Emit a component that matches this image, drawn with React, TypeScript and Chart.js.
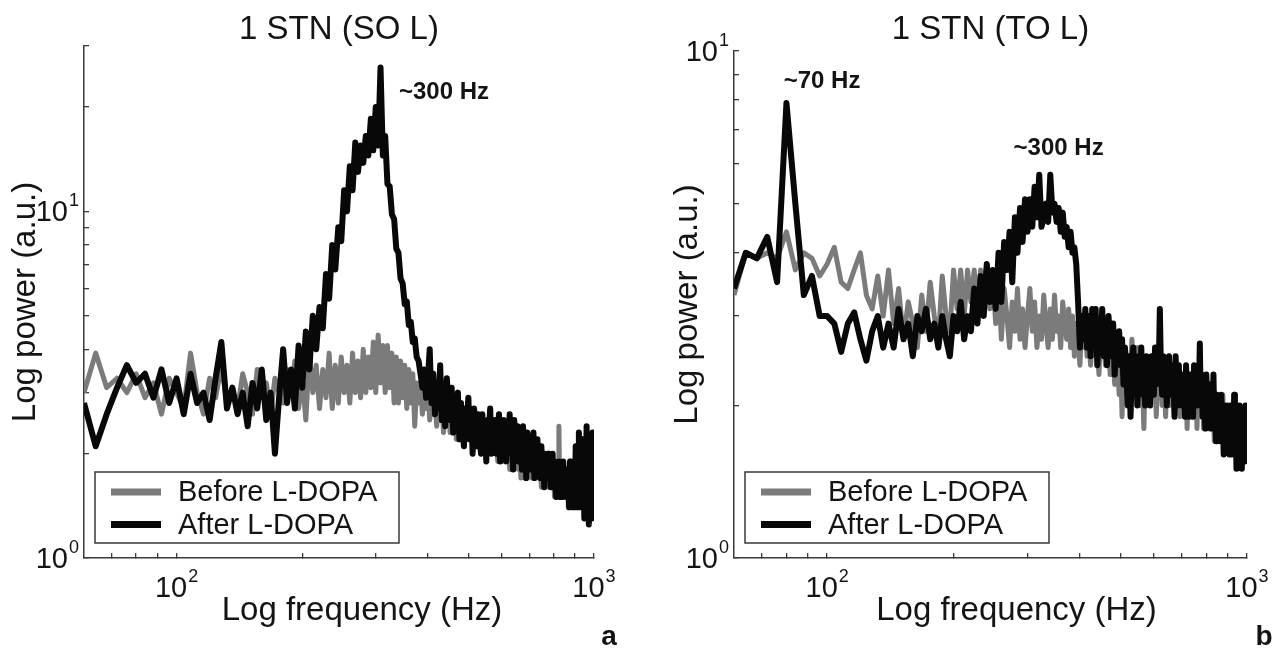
import React, { useEffect, useRef } from 'react';
import { Chart, registerables } from 'chart.js';

Chart.register(...registerables);

const FONT = "'Liberation Sans', Arial, Helvetica, sans-serif";
Chart.defaults.font.family = FONT;

// ---------------- data ----------------
// spectra are sampled on a 4 Hz frequency grid, 60 .. 1000 Hz
const FREQ_START_HZ = 60;
const FREQ_STEP_HZ = 4;

// Panel a: 1 STN (SO L)
const SO_BEFORE = [
  3.0, 3.9, 3.1, 3.3, 3.0, 3.4, 2.9, 3.2, 2.6, 3.3,
  3.0, 2.7, 3.9, 3.0, 2.6, 3.3, 2.9, 3.6, 2.8, 3.1,
  2.7, 3.4, 3.0, 2.6, 3.5, 2.9, 3.2, 2.6, 3.3, 3.0,
  2.8, 3.5, 3.0, 3.7, 2.7, 3.3, 2.5, 3.9, 3.0, 3.6,
  2.7, 3.5, 2.9, 3.9, 2.7, 3.6, 2.8, 3.8, 3.0, 3.6,
  2.8, 3.9, 3.0, 3.7, 2.9, 4.0, 3.0, 3.8, 3.1, 4.2,
  3.0, 4.4, 3.2, 4.1, 3.0, 4.1, 3.1, 3.9, 2.8, 3.8,
  2.8, 3.7, 2.9, 3.6, 2.7, 3.5, 2.8, 3.4, 2.4, 3.2,
  2.8, 3.2, 2.6, 3.0, 2.7, 3.1, 2.5, 2.9, 2.6, 2.8,
  2.4, 2.9, 2.5, 2.8, 2.3, 2.7, 2.5, 2.9, 2.3, 2.6,
  2.4, 2.7, 2.2, 2.6, 2.3, 2.8, 2.2, 2.5, 2.4, 2.6,
  2.2, 2.5, 2.3, 2.6, 2.1, 2.4, 2.2, 2.6, 2.1, 2.4,
  2.2, 2.5, 2.0, 2.4, 2.2, 2.3, 2.0, 2.4, 2.1, 2.3,
  2.0, 2.3, 1.9, 2.2, 2.0, 2.4, 1.9, 2.2, 2.0, 2.1,
  1.9, 2.2, 1.8, 2.1, 2.0, 2.3, 1.8, 2.1, 1.9, 2.2,
  1.8, 2.1, 1.7, 2.0, 1.9, 2.2, 1.7, 2.0, 1.8, 2.1,
  1.8, 2.0, 1.7, 2.1, 1.8, 1.9, 1.7, 2.0, 1.8, 1.9,
  1.7, 1.9, 1.6, 1.9, 1.8, 2.0, 1.6, 1.9, 1.7, 1.8,
  1.6, 1.9, 1.7, 1.8, 1.6, 1.9, 1.5, 1.8, 1.7, 1.8,
  1.6, 2.4, 1.5, 1.7, 1.6, 1.8, 1.5, 1.7, 1.6, 1.7,
  1.5, 1.7, 1.4, 1.7, 1.5, 1.8, 1.5, 1.6, 1.4, 1.7,
  1.5, 1.6, 1.4, 1.7, 1.5, 1.6, 1.4, 1.6, 1.5, 1.7,
  1.4, 1.6, 1.5, 1.7, 1.4, 1.5, 1.3, 1.6, 1.4, 1.6,
  1.4, 1.7, 1.4, 1.6, 1.3, 1.5,
];

const SO_AFTER = [
  2.8, 2.1, 2.6, 3.1, 3.6, 3.2, 3.4, 2.9, 3.5, 2.8,
  3.3, 2.6, 3.4, 2.8, 3.0, 2.5, 3.3, 4.2, 2.7, 3.1,
  2.6, 3.0, 2.4, 3.2, 2.7, 3.5, 2.5, 3.0, 2.0, 2.9,
  4.0, 2.8, 3.5, 2.7, 4.1, 3.1, 4.5, 3.5, 5.0, 4.0,
  5.3, 4.6, 6.6, 5.6, 8.0, 6.8, 9.0, 8.2, 11.5, 10.0,
  13.5, 11.5, 15.8, 13.0, 15.5, 13.8, 16.5, 14.5, 18.5, 15.0,
  20.0, 15.5, 26.0, 14.5, 16.5, 12.0, 11.8, 9.8, 9.5, 7.8,
  7.6, 6.4, 6.2, 5.4, 5.5, 4.7, 4.8, 4.2, 4.3, 3.8,
  3.7, 3.4, 3.1, 3.5, 2.9, 3.3, 4.0, 2.8, 3.4, 2.6,
  3.2, 2.7, 3.6, 2.5, 3.0, 2.4, 3.3, 2.8, 2.5, 3.1,
  2.3, 2.9, 2.6, 3.0, 2.2, 2.8, 2.4, 2.1, 2.7, 2.5,
  2.9, 2.2, 2.6, 2.0, 2.7, 2.4, 2.1, 2.6, 2.3, 2.0,
  2.6, 2.2, 2.4, 1.9, 2.5, 2.3, 2.7, 2.0, 2.4, 2.2,
  2.5, 2.0, 2.3, 2.6, 1.9, 2.4, 2.1, 2.5, 2.2, 1.9,
  2.4, 2.1, 2.6, 2.0, 2.3, 1.8, 2.5, 2.2, 2.0, 2.4,
  1.9, 2.3, 2.1, 1.8, 2.4, 2.0, 2.2, 1.7, 2.3, 2.0,
  2.2, 1.8, 2.1, 1.9, 2.3, 1.7, 2.0, 1.9, 2.2, 1.8,
  2.0, 1.7, 2.1, 1.8, 1.9, 1.6, 2.0, 1.8, 1.7, 2.0,
  1.7, 1.9, 1.6, 1.8, 2.0, 1.6, 1.9, 1.7, 1.5, 1.8,
  1.6, 1.9, 1.5, 1.8, 1.7, 1.5, 1.9, 1.6, 1.7, 1.5,
  1.8, 1.5, 1.7, 1.4, 1.9, 1.6, 1.5, 1.7, 1.4, 1.8,
  1.5, 2.1, 1.4, 1.9, 1.6, 2.3, 1.4, 1.8, 1.5, 2.2,
  1.4, 1.9, 1.3, 2.0, 1.6, 2.4, 1.3, 1.8, 1.25, 2.2,
  1.4, 2.0, 1.3, 2.3, 1.5, 1.9,
];

// Panel b: 1 STN (TO L)
const TO_BEFORE = [
  3.3, 4.0, 3.9, 4.0, 3.9, 4.4, 3.7, 4.0, 3.9, 3.6,
  3.8, 4.1, 3.5, 3.4, 3.7, 4.0, 3.3, 3.1, 3.6, 3.0,
  3.7, 2.9, 3.4, 2.7, 3.2, 2.9, 2.6, 3.3, 2.8, 3.5,
  3.0, 2.7, 3.6, 3.0, 2.8, 3.7, 3.1, 3.7, 3.0, 3.7,
  3.2, 3.7, 3.0, 3.7, 3.4, 3.8, 3.1, 3.6, 2.9, 3.5,
  2.7, 3.4, 3.0, 2.6, 3.2, 2.8, 3.4, 2.7, 3.1, 2.6,
  3.0, 3.4, 2.8, 3.2, 2.6, 3.0, 2.7, 3.3, 2.9, 2.6,
  3.1, 2.7, 3.3, 2.8, 3.0, 2.6, 3.2, 2.9, 2.7, 3.1,
  2.6, 3.0, 2.5, 2.9, 2.7, 2.4, 2.9, 2.6, 2.8, 2.5,
  2.8, 2.4, 2.7, 2.9, 2.5, 2.6, 2.3, 2.8, 2.5, 2.7,
  2.4, 2.6, 2.9, 2.3, 2.7, 2.5, 2.2, 2.6, 2.4, 2.1,
  2.5, 1.9, 2.4, 2.6, 2.2, 2.5, 2.0, 2.4, 2.7, 2.3,
  2.5, 2.1, 2.6, 2.3, 2.0, 2.4, 2.2, 1.8, 2.3, 2.5,
  2.2, 2.4, 2.0, 2.3, 2.5, 2.1, 2.3, 1.9, 2.2, 2.4,
  2.1, 2.3, 2.0, 2.4, 2.2, 1.9, 2.3, 2.1, 2.2, 2.0,
  2.3, 2.0, 2.2, 1.9, 2.4, 2.1, 2.0, 2.3, 1.9, 2.2,
  2.0, 2.3, 1.9, 2.1, 2.2, 1.8, 2.2, 2.0, 2.1, 1.9,
  2.2, 1.9, 2.1, 2.0, 2.3, 1.8, 2.1, 1.9, 2.0, 2.2,
  1.9, 2.1, 1.8, 2.0, 2.2, 1.9, 2.0, 1.8, 2.1, 1.9,
  2.0, 1.8, 2.1, 1.9, 1.7, 2.0, 1.8, 2.1, 1.9, 1.8,
  2.0, 1.7, 1.9, 1.8, 2.1, 1.7, 1.9, 1.8, 2.0, 1.7,
  1.9, 1.7, 2.0, 1.8, 1.6, 1.9, 1.7, 2.0, 1.6, 1.8,
  1.7, 1.9, 1.6, 1.8, 1.5, 1.9, 1.7, 1.6, 1.8, 1.6,
  1.9, 1.6, 2.0, 1.7, 1.8, 2.0,
];

const TO_AFTER = [
  3.4, 4.0, 3.9, 4.3, 3.5, 7.9, 5.0, 3.3, 3.6, 3.0,
  3.0, 2.9, 2.55, 2.9, 3.05, 2.7, 2.45, 2.8, 3.0, 2.6,
  2.9, 2.6, 3.1, 2.7, 2.9, 2.5, 3.0, 2.8, 3.1, 2.7,
  2.9, 2.6, 3.0, 2.7, 2.5, 3.0, 2.8, 3.2, 2.7, 3.0,
  2.8, 3.4, 2.9, 3.6, 3.0, 3.8, 3.2, 3.7, 3.1, 4.0,
  3.2, 4.2, 3.7, 4.4, 3.5, 4.7, 4.0, 4.9, 4.2, 5.1,
  4.4, 5.1, 4.5, 5.4, 4.7, 5.7, 4.5, 4.7, 5.0, 4.6,
  5.7, 4.8, 5.0, 4.6, 4.9, 4.4, 4.8, 4.3, 4.5, 4.1,
  4.4, 4.0, 4.1, 3.8, 3.2, 2.6, 3.0, 2.7, 3.1, 2.6,
  3.0, 2.5, 3.1, 2.7, 3.1, 2.4, 2.9, 2.6, 3.1, 2.5,
  2.8, 2.4, 3.0, 2.6, 2.5, 2.9, 2.3, 2.7, 2.5, 2.8,
  2.4, 2.7, 2.2, 2.6, 2.3, 2.0, 2.5, 1.9, 2.4, 2.6,
  2.2, 2.5, 2.0, 2.4, 2.2, 2.6, 2.1, 2.3, 2.0, 2.5,
  2.2, 2.4, 2.0, 2.5, 2.3, 2.1, 2.6, 2.2, 2.4, 2.3,
  3.1, 2.3, 2.1, 2.5, 2.2, 2.4, 2.0, 2.3, 2.5, 2.1,
  2.4, 2.1, 2.3, 1.9, 2.5, 2.2, 2.0, 2.4, 2.1, 2.3,
  2.0, 2.3, 2.1, 1.9, 2.4, 2.0, 2.2, 1.9, 2.3, 2.1,
  2.2, 1.9, 2.4, 2.0, 2.3, 2.1, 2.0, 2.1, 2.65, 2.0,
  2.3, 1.9, 2.2, 2.0, 1.8, 2.3, 2.0, 2.1, 1.9, 2.2,
  1.8, 2.1, 1.9, 2.3, 1.8, 2.0, 1.7, 2.1, 1.9, 1.8,
  2.0, 1.7, 2.1, 1.8, 1.9, 1.6, 2.0, 1.8, 1.7, 2.0,
  1.7, 1.9, 1.6, 2.0, 1.8, 1.6, 1.9, 1.7, 2.1, 1.6,
  1.8, 1.5, 1.9, 1.7, 1.55, 2.0, 1.6, 1.8, 1.5, 1.9,
  1.6, 1.8, 1.55, 2.0, 1.6, 1.9,
];

const FREQ_HZ = SO_BEFORE.map((_, i) => FREQ_START_HZ + FREQ_STEP_HZ * i);

const SERIES_LABELS = ['Before L-DOPA', 'After L-DOPA'];
const PANEL_TITLES = ['1 STN (SO L)', '1 STN (TO L)'];
const PANEL_LETTERS = ['a', 'b'];
const X_TITLE = 'Log frequency (Hz)';
const Y_TITLE = 'Log power (a.u.)';

const X_RANGE = [60, 1000];
const Y_MAX = [30, 10];
const X_TICKS = [70, 80, 90, 100, 200, 300, 400, 500, 600, 700, 800, 900, 1000];
const X_LABELED_TICKS = [100, 1000];
const X_TICK_EXPONENTS = ['2', '3'];
const Y_TICKS_A = [1, 2, 3, 4, 5, 6, 7, 8, 9, 10, 20, 30];
const Y_TICKS_B = [1, 2, 3, 4, 5, 6, 7, 8, 9, 10];
const Y_LABELED_TICKS = [1, 10];
const Y_TICK_EXPONENTS = ['0', '1'];
const TICK_BASE = '10';

// peak annotations, anchored in data coordinates (frequency, power)
const PEAK_LABELS_A = [{ text: '~300 Hz', f: 341, v: 21.1 }];
const PEAK_LABELS_B = [
  { text: '~70 Hz', f: 78.8, v: 8.45 },
  { text: '~300 Hz', f: 278, v: 6.24 },
];

// ---------------- styles / layout ----------------
const GRAY = '#7b7b7b';
const BLACK = '#080808';
const AXIS_COLOR = '#3a3a3a';
const TEXT_COLOR = '#141414';
const TICK_FONT = 29;
const EXP_FONT = 18;

const PANELS = [
  {
    left: 0, width: 640, height: 650,
    yAxisWidth: 84, padRight: 46, titlePadTop: 13, titlePadBottom: 0,
    xAxisHeight: 92, yTitlePad: 9.5, xTitleDx: 23, xTitleBaseline: 620,
    letterX: 609, letterBaseline: 645,
  },
  {
    left: 640, width: 637, height: 650,
    yAxisWidth: 94, padRight: 30, titlePadTop: 13, titlePadBottom: 5,
    xAxisHeight: 92, yTitlePad: 31.5, xTitleDx: 26, xTitleBaseline: 620,
    letterX: 624, letterBaseline: 645,
  },
];

type Layout = (typeof PANELS)[number];
type Peak = { text: string; f: number; v: number };

function drawPower(ctx: any, exp: string, x: number, baseline: number, align: 'center' | 'right') {
  ctx.font = `${TICK_FONT}px ${FONT}`;
  const wb = ctx.measureText(TICK_BASE).width;
  ctx.font = `${EXP_FONT}px ${FONT}`;
  const we = ctx.measureText(exp).width;
  const total = wb + 1 + we;
  const x0 = align === 'center' ? x - total / 2 : x - total;
  ctx.textAlign = 'left';
  ctx.textBaseline = 'alphabetic';
  ctx.font = `${TICK_FONT}px ${FONT}`;
  ctx.fillText(TICK_BASE, x0, baseline);
  ctx.font = `${EXP_FONT}px ${FONT}`;
  ctx.fillText(exp, x0 + wb + 1, baseline - 15);
}

function makeDecor(layout: Layout, letter: string, peaks: Peak[]) {
  return {
    id: 'panelDecor',
    afterDraw(chart: any) {
      const { ctx, chartArea: ca, scales } = chart;
      ctx.save();
      ctx.fillStyle = TEXT_COLOR;

      // tick labels (powers of ten) placed by the scales
      X_LABELED_TICKS.forEach((v, k) => {
        drawPower(ctx, X_TICK_EXPONENTS[k], scales.x.getPixelForValue(v), ca.bottom + 39, 'center');
      });
      Y_LABELED_TICKS.forEach((v, k) => {
        drawPower(ctx, Y_TICK_EXPONENTS[k], ca.left - 5, scales.y.getPixelForValue(v) + 10, 'right');
      });

      // x-axis title
      ctx.font = `33px ${FONT}`;
      ctx.textAlign = 'center';
      ctx.textBaseline = 'alphabetic';
      ctx.fillText(X_TITLE, (ca.left + ca.right) / 2 + layout.xTitleDx, layout.xTitleBaseline);

      // peak annotations
      ctx.font = `bold 24px ${FONT}`;
      ctx.textAlign = 'left';
      for (const p of peaks) {
        ctx.fillText(p.text, scales.x.getPixelForValue(p.f), scales.y.getPixelForValue(p.v));
      }

      // panel letter
      ctx.font = `bold 28px ${FONT}`;
      ctx.textAlign = 'center';
      ctx.fillText(letter, layout.letterX, layout.letterBaseline);

      // legend box
      const bw = 304;
      const bh = 71;
      const bx = ca.left + 11;
      const by = ca.bottom - 15 - bh;
      ctx.fillStyle = '#ffffff';
      ctx.fillRect(bx, by, bw, bh);
      ctx.strokeStyle = AXIS_COLOR;
      ctx.lineWidth = 1.5;
      ctx.strokeRect(bx, by, bw, bh);
      ctx.font = `29px ${FONT}`;
      ctx.textAlign = 'left';
      ctx.textBaseline = 'middle';
      chart.data.datasets.forEach((ds: any, i: number) => {
        const ry = by + 20 + 32.5 * i;
        ctx.strokeStyle = ds.borderColor;
        ctx.lineWidth = 7;
        ctx.lineCap = 'butt';
        ctx.beginPath();
        ctx.moveTo(bx + 16, ry);
        ctx.lineTo(bx + 66, ry);
        ctx.stroke();
        ctx.fillStyle = TEXT_COLOR;
        ctx.fillText(ds.label, bx + 83, ry + 1);
      });
      ctx.restore();
    },
  };
}

function makeConfig(idx: number): any {
  const layout = PANELS[idx];
  const before = idx === 0 ? SO_BEFORE : TO_BEFORE;
  const after = idx === 0 ? SO_AFTER : TO_AFTER;
  const yTicks = idx === 0 ? Y_TICKS_A : Y_TICKS_B;
  const peaks = idx === 0 ? PEAK_LABELS_A : PEAK_LABELS_B;

  const axisCommon = {
    type: 'logarithmic',
    grid: {
      display: true,
      drawOnChartArea: false,
      drawTicks: true,
      tickLength: -5,
      color: AXIS_COLOR,
      lineWidth: 1.3,
    },
    border: { display: true, color: AXIS_COLOR, width: 1.5 },
  };

  return {
    type: 'line',
    data: {
      datasets: [
        {
          label: SERIES_LABELS[0],
          data: FREQ_HZ.map((f, i) => ({ x: f, y: before[i] })),
          borderColor: GRAY,
          borderWidth: 5,
          pointRadius: 0,
          order: 2,
        },
        {
          label: SERIES_LABELS[1],
          data: FREQ_HZ.map((f, i) => ({ x: f, y: after[i] })),
          borderColor: BLACK,
          borderWidth: 6,
          pointRadius: 0,
          order: 1,
        },
      ],
    },
    options: {
      responsive: false,
      animation: false,
      devicePixelRatio: 1,
      events: [],
      layout: { padding: { left: 0, right: layout.padRight, top: 0, bottom: 0 } },
      elements: {
        line: { tension: 0, borderJoinStyle: 'round', borderCapStyle: 'butt' },
      },
      plugins: {
        legend: { display: false },
        tooltip: { enabled: false },
        title: {
          display: true,
          text: PANEL_TITLES[idx],
          fullSize: false,
          color: TEXT_COLOR,
          font: { size: 33, weight: 'normal', lineHeight: 1 },
          padding: { top: layout.titlePadTop, bottom: layout.titlePadBottom },
        },
      },
      scales: {
        x: {
          ...axisCommon,
          position: 'bottom',
          min: X_RANGE[0],
          max: X_RANGE[1],
          afterBuildTicks: (scale: any) => {
            scale.ticks = X_TICKS.map((value) => ({ value }));
          },
          afterFit: (scale: any) => {
            scale.height = layout.xAxisHeight;
          },
          ticks: { display: false, autoSkip: false, maxRotation: 0, minRotation: 0 },
          title: { display: false },
        },
        y: {
          ...axisCommon,
          position: 'left',
          min: 1,
          max: Y_MAX[idx],
          afterBuildTicks: (scale: any) => {
            scale.ticks = yTicks.map((value) => ({ value }));
          },
          afterFit: (scale: any) => {
            scale.width = layout.yAxisWidth;
          },
          ticks: { display: false, autoSkip: false },
          title: {
            display: true,
            text: Y_TITLE,
            color: TEXT_COLOR,
            font: { size: 33, lineHeight: 1 },
            padding: { top: layout.yTitlePad, bottom: 0 },
          },
        },
      },
    },
    plugins: [makeDecor(layout, PANEL_LETTERS[idx], peaks)],
  };
}

export default function App() {
  const refA = useRef<HTMLCanvasElement | null>(null);
  const refB = useRef<HTMLCanvasElement | null>(null);

  useEffect(() => {
    const charts: Chart[] = [];
    [refA, refB].forEach((r, idx) => {
      if (r.current) charts.push(new Chart(r.current, makeConfig(idx)));
    });
    return () => charts.forEach((c) => c.destroy());
  }, []);

  return (
    <div
      style={{
        position: 'absolute',
        left: 0,
        top: 0,
        width: 1277,
        height: 650,
        background: '#ffffff',
        overflow: 'hidden',
      }}
    >
      {[refA, refB].map((r, idx) => (
        <canvas
          key={idx}
          ref={r}
          width={PANELS[idx].width}
          height={PANELS[idx].height}
          style={{
            position: 'absolute',
            left: PANELS[idx].left,
            top: 0,
            width: PANELS[idx].width,
            height: PANELS[idx].height,
            display: 'block',
          }}
        />
      ))}
    </div>
  );
}
